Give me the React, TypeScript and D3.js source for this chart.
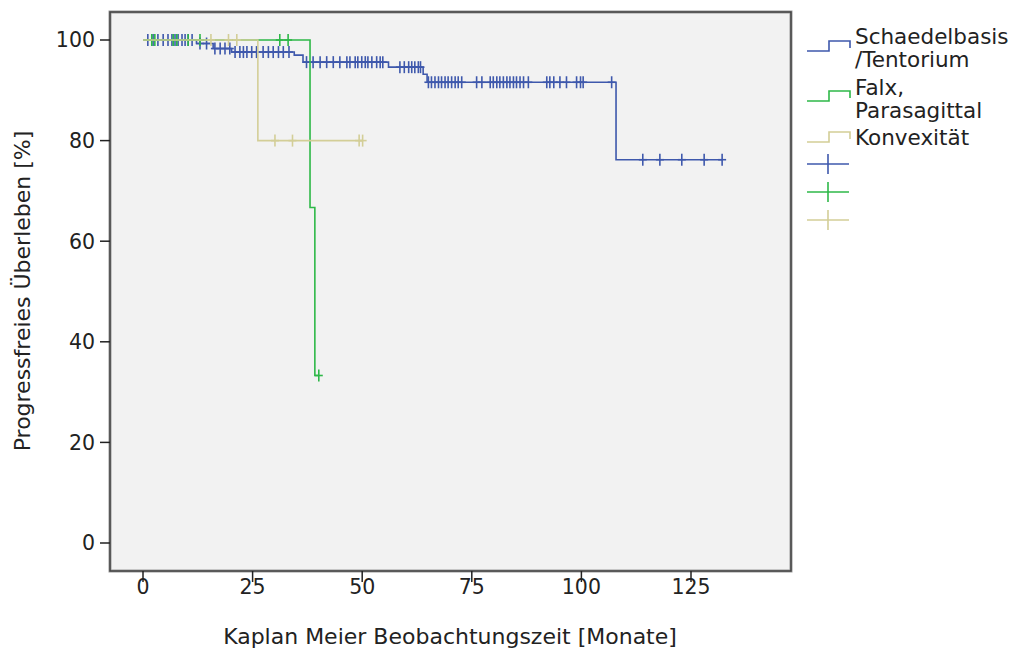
import React from "react";
import * as d3 from "d3";

// ---- Data ----
const xTicks = [0, 25, 50, 75, 100, 125];
const yTicks = [0, 20, 40, 60, 80, 100];

const seriesNames = ["Schaedelbasis\n/Tentorium", "Falx,\nParasagittal", "Konvexität"];
const seriesColors = ["#3E58AC", "#2EB848", "#D3CE97"];

// Schaedelbasis/Tentorium
const blueStepTimes = [0, 12.2, 16.0, 20.2, 34.5, 36.5, 56.0, 63.9, 64.8, 107.9];
const blueStepValues = [100, 99.3, 98.3, 97.6, 97.0, 95.6, 94.6, 93.2, 91.6, 76.2];
const blueEnd = 132.1;
const blueCensored = [
  1.1, 2.3, 3.4, 4.6, 5.7, 6.6, 7.3, 8.0, 8.9, 9.6, 10.3, 11.2,
  13.0, 14.5, 16.4, 17.6, 18.7, 19.8, 21.0, 22.1, 22.9, 23.7, 24.8, 25.9,
  27.4, 28.6, 29.7, 30.9, 32.0, 33.3, 37.3, 38.8, 40.4, 41.9, 43.4, 44.9,
  46.5, 47.2, 48.4, 49.0, 49.9, 50.7, 51.3, 52.2, 53.3, 54.1, 54.7,
  58.6, 59.6, 60.6, 61.3, 62.0, 62.8, 63.3,
  65.1, 65.8, 66.6, 67.4, 68.1, 68.9, 69.6, 70.4, 71.2, 71.9, 72.7,
  76.1, 77.3, 79.2, 79.9, 80.7, 81.4, 82.2, 83.0, 83.7, 84.5, 85.2, 86.0,
  86.8, 87.9, 92.1, 92.8, 93.7, 95.1, 96.6, 98.9, 99.8, 100.4, 106.9,
  114.0, 117.9, 122.9, 128.0, 132.1,
];

// Falx, Parasagittal
const greenStepTimes = [0, 38.1, 39.2];
const greenStepValues = [100, 66.7, 33.3];
const greenEnd = 40.1;
const greenCensored = [2.0, 2.7, 6.9, 7.7, 10.3, 13.0, 31.2, 33.1, 40.1];

// Konvexität
const tanStepTimes = [0, 26.2];
const tanStepValues = [100, 80];
const tanEnd = 50.1;
const tanCensored = [15.5, 19.5, 21.4, 30.1, 34.1, 49.3, 50.1];

const series = [
  { times: blueStepTimes, values: blueStepValues, end: blueEnd, censored: blueCensored },
  { times: greenStepTimes, values: greenStepValues, end: greenEnd, censored: greenCensored },
  { times: tanStepTimes, values: tanStepValues, end: tanEnd, censored: tanCensored },
];

const W = 1019;
const H = 655;
const frame = { left: 110, top: 12, right: 791, bottom: 571 };
const FONT = "'DejaVu Sans', sans-serif";

const x = d3.scaleLinear().domain([0, 125]).range([143, 691]);
const y = d3.scaleLinear().domain([0, 100]).range([543, 40]);

function valueAt(times: number[], values: number[], t: number) {
  let v = values[0];
  for (let i = 0; i < times.length; i++) if (times[i] <= t) v = values[i];
  return v;
}

export default function App() {
  const line = d3
    .line<[number, number]>()
    .x((d) => x(d[0]))
    .y((d) => y(d[1]))
    .curve(d3.curveStepAfter);

  return (
    <svg
      width={W}
      height={H}
      style={{ position: "absolute", left: 0, top: 0, background: "#fff" }}
      fontFamily={FONT}
    >
      {/* frame */}
      <rect
        x={frame.left}
        y={frame.top}
        width={frame.right - frame.left}
        height={frame.bottom - frame.top}
        fill="#F2F2F2"
        stroke="#9a9a9a"
        strokeWidth={3}
      />
      <rect
        x={frame.left}
        y={frame.top}
        width={frame.right - frame.left}
        height={frame.bottom - frame.top}
        fill="none"
        stroke="#444"
        strokeWidth={1.5}
      />

      {/* curves */}
      {series.map((s, i) => {
        const pts: [number, number][] = s.times.map((t, j) => [t, s.values[j]]);
        pts.push([s.end, s.values[s.values.length - 1]]);
        return (
          <g key={i}>
            <path d={line(pts) || ""} fill="none" stroke={seriesColors[i]} strokeWidth={1.6} />
            {s.censored.map((t, k) => {
              const cx = x(t);
              const cy = y(valueAt(s.times, s.values, t));
              return (
                <g key={k} stroke={seriesColors[i]} strokeWidth={1.6}>
                  <line x1={cx - 4} x2={cx + 4} y1={cy} y2={cy} />
                  <line x1={cx} x2={cx} y1={cy - 6} y2={cy + 6} />
                </g>
              );
            })}
          </g>
        );
      })}

      {/* y axis */}
      {yTicks.map((v) => (
        <g key={v}>
          <line x1={100} x2={frame.left} y1={y(v)} y2={y(v)} stroke="#222" strokeWidth={1.5} />
          <text x={95} y={y(v)} dy="0.36em" textAnchor="end" fontSize={20.5} fill="#222">
            {v}
          </text>
        </g>
      ))}
      {/* x axis */}
      {xTicks.map((t) => (
        <g key={t}>
          <line x1={x(t)} x2={x(t)} y1={frame.bottom} y2={582} stroke="#222" strokeWidth={1.5} />
          <text x={x(t)} y={594} textAnchor="middle" fontSize={20.5} fill="#222">
            {t}
          </text>
        </g>
      ))}

      <text x={450} y={644} textAnchor="middle" fontSize={22} fill="#222">
        Kaplan Meier Beobachtungszeit [Monate]
      </text>
      <text
        transform={`translate(30,291) rotate(-90)`}
        textAnchor="middle"
        fontSize={22}
        fill="#222"
      >
        Progressfreies Überleben [%]
      </text>

      {/* legend */}
      {seriesNames.map((name, i) => {
        const tops = [41, 91, 132];
        const baselines = [44, 95, 145];
        const t = tops[i];
        const lines = name.split("\n");
        return (
          <g key={name}>
            <path
              d={`M807,${t + 10} H829 V${t} H850 V${t + 7}`}
              fill="none"
              stroke={seriesColors[i]}
              strokeWidth={1.6}
            />
            {lines.map((ln, k) => (
              <text key={k} x={855} y={baselines[i] + k * 23} fontSize={21.5} fill="#222">
                {ln}
              </text>
            ))}
          </g>
        );
      })}
      {seriesColors.map((c, i) => {
        const cy = 164 + i * 28;
        return (
          <g key={c} stroke={c} strokeWidth={1.6}>
            <line x1={807} x2={849} y1={cy} y2={cy} />
            <line x1={828} x2={828} y1={cy - 10} y2={cy + 10} />
          </g>
        );
      })}
    </svg>
  );
}
